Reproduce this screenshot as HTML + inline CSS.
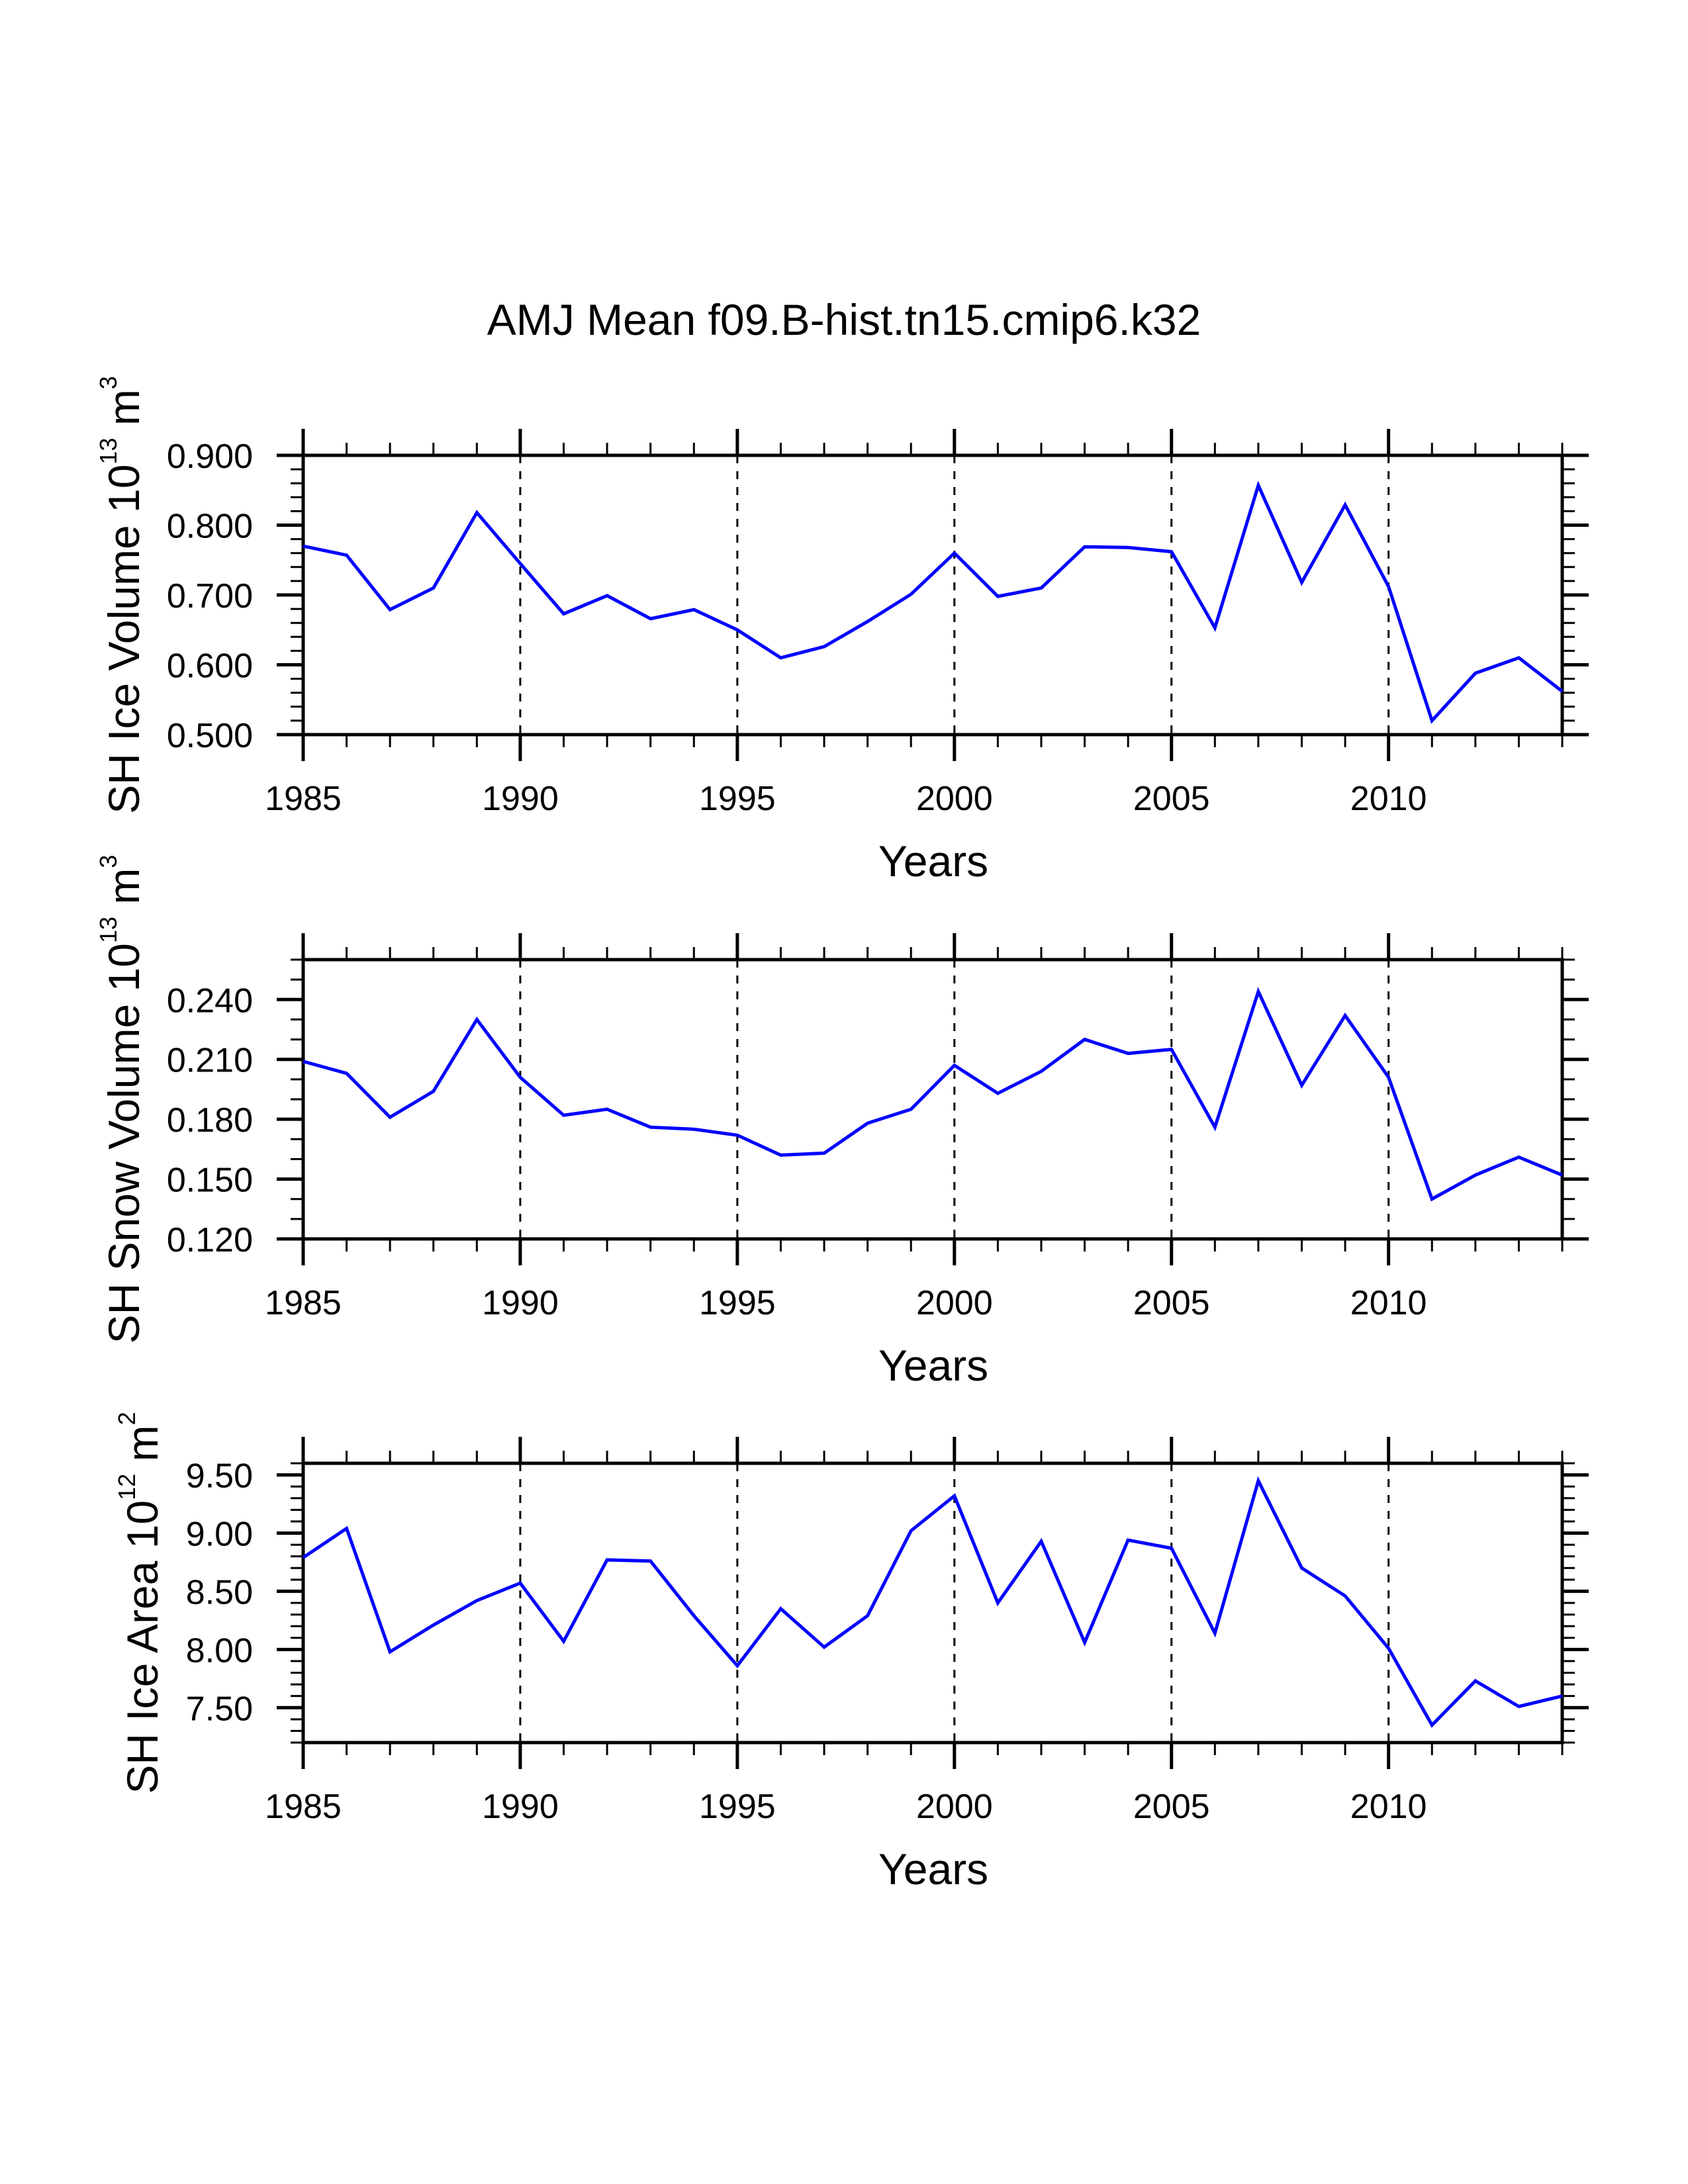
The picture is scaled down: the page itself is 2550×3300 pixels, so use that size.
<!DOCTYPE html>
<html><head><meta charset="utf-8"><style>
html,body{margin:0;padding:0;background:#fff;}
svg{display:block;}
text{font-family:"Liberation Sans",Helvetica,Arial,sans-serif;fill:#000;}
</style></head><body>
<svg id="chart" width="2550" height="3300" viewBox="0 0 2550 3300" xmlns="http://www.w3.org/2000/svg">
<text x="1275" y="506" font-size="66" text-anchor="middle">AMJ Mean f09.B-hist.tn15.cmip6.k32</text>
</svg>
<script>
const years = [1985,1986,1987,1988,1989,1990,1991,1992,1993,1994,1995,1996,1997,1998,1999,2000,2001,2002,2003,2004,2005,2006,2007,2008,2009,2010,2011,2012,2013,2014];
const iceVolume = [0.770,0.757,0.679,0.710,0.818,0.745,0.673,0.699,0.666,0.679,0.650,0.610,0.626,0.662,0.701,0.760,0.698,0.710,0.769,0.768,0.762,0.653,0.857,0.718,0.829,0.712,0.520,0.588,0.610,0.562];
const snowVolume = [0.209,0.203,0.181,0.194,0.230,0.201,0.182,0.185,0.176,0.175,0.172,0.162,0.163,0.178,0.185,0.207,0.193,0.204,0.220,0.213,0.215,0.176,0.244,0.197,0.232,0.201,0.140,0.152,0.161,0.152];
const iceArea = [8.79,9.04,7.98,8.21,8.42,8.57,8.07,8.77,8.76,8.29,7.86,8.35,8.02,8.29,9.02,9.32,8.40,8.93,8.06,8.94,8.87,8.14,9.45,8.70,8.46,8.01,7.35,7.73,7.51,7.60];
const xTickLabels = ["1985","1990","1995","2000","2005","2010"];
const iceVolumeTicks = ["0.500","0.600","0.700","0.800","0.900"];
const snowVolumeTicks = ["0.120","0.150","0.180","0.210","0.240"];
const iceAreaTicks = ["7.50","8.00","8.50","9.00","9.50"];

const NS='http://www.w3.org/2000/svg';
const svg=document.getElementById('chart');
function mk(tag,attrs,parent){const e=document.createElementNS(NS,tag);for(const k in attrs)e.setAttribute(k,attrs[k]);(parent||svg).appendChild(e);return e;}

const X0=458,X1=2360,xmin=1985,xmax=2014;
const xs=v=>X0+(v-xmin)/(xmax-xmin)*(X1-X0);

const panels=[
 {key:'ice-volume',top:688,vals:iceVolume,ticks:iceVolumeTicks,ymin:0.5,ymax:0.9,minor:0.02,titleX:210,main:'SH Ice Volume 10',sup:'13',unit:' m',usup:'3'},
 {key:'snow-volume',top:1450,vals:snowVolume,ticks:snowVolumeTicks,ymin:0.12,ymax:0.26,minor:0.01,titleX:210,main:'SH Snow Volume 10',sup:'13',unit:' m',usup:'3'},
 {key:'ice-area',top:2211,vals:iceArea,ticks:iceAreaTicks,ymin:7.2,ymax:9.6,minor:0.1,titleX:238,main:'SH Ice Area 10',sup:'12',unit:' m',usup:'2'}
];
const H=422;
panels.forEach(p=>{
 const g=mk('g',{});
 
 
 const T=p.top,B=p.top+H;
 const ys=v=>B-(v-p.ymin)/(p.ymax-p.ymin)*H;
 for(let y=1990;y<=2010;y+=5){
  const l=mk('line',{x1:xs(y),x2:xs(y),y1:T,y2:B,stroke:'#000','stroke-width':3,'stroke-dasharray':'12,12'},g);
  
  
 }
 for(let y=xmin;y<=xmax;y++){
  const maj=(y%5===0), len=maj?40:19;
  mk('line',{x1:xs(y),x2:xs(y),y1:B,y2:B+len,stroke:'#000','stroke-width':maj?5:3},g);
  mk('line',{x1:xs(y),x2:xs(y),y1:T,y2:T-len,stroke:'#000','stroke-width':maj?5:3},g);
 }
 xTickLabels.forEach(s=>{
  const t=mk('text',{x:xs(+s),y:B+114,'font-size':52,'text-anchor':'middle'},g);
  t.textContent=s;
  
  
 });
 const n=Math.round((p.ymax-p.ymin)/p.minor);
 for(let i=0;i<=n;i++){
  const v=p.ymin+i*p.minor;
  const isMaj=p.ticks.some(s=>Math.abs(parseFloat(s)-v)<p.minor/10);
  const len=isMaj?40:19;
  mk('line',{x1:X0,x2:X0-len,y1:ys(v),y2:ys(v),stroke:'#000','stroke-width':isMaj?5:3},g);
  mk('line',{x1:X1,x2:X1+len,y1:ys(v),y2:ys(v),stroke:'#000','stroke-width':isMaj?5:3},g);
 }
 p.ticks.forEach(s=>{
  const t=mk('text',{x:382,y:ys(parseFloat(s))+19,'font-size':52,'text-anchor':'end'},g);
  t.textContent=s;
  
  
 });
 const r=mk('rect',{x:X0,y:T,width:X1-X0,height:H,fill:'none',stroke:'#000','stroke-width':5},g);
 
 
 const pts=years.map((y,i)=>xs(y)+','+ys(p.vals[i])).join(' ');
 const pl=mk('polyline',{points:pts,fill:'none',stroke:'#0000ff','stroke-width':5,'stroke-linejoin':'miter'},g);
 
 
 const cy=(T+B)/2;
 const yt=mk('text',{x:0,y:0,'font-size':66,'text-anchor':'middle',transform:`translate(${p.titleX},${cy}) rotate(-90)`},g);
 
 
 const a=mk('tspan',{},yt);a.textContent=p.main;
 const b=mk('tspan',{dy:-34,'font-size':36},yt);b.textContent=p.sup;
 const c=mk('tspan',{dy:34},yt);c.textContent=p.unit;
 const d=mk('tspan',{dy:-34,'font-size':36},yt);d.textContent=p.usup;
 const xt=mk('text',{x:1410,y:B+214,'font-size':66,'text-anchor':'middle'},g);
 xt.textContent='Years';
 
 
});
</script>
</body></html>
